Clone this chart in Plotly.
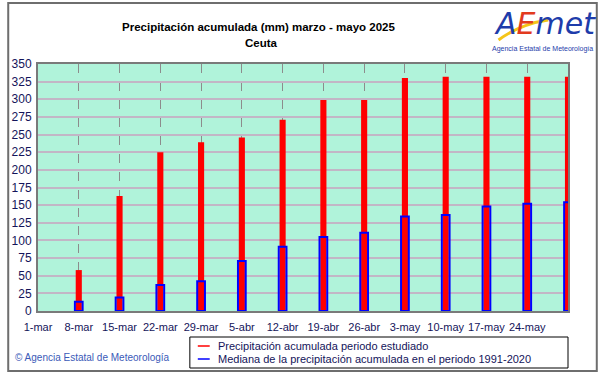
import plotly.graph_objects as go

# ---- data ----
categories = ["1-mar", "8-mar", "15-mar", "22-mar", "29-mar", "5-abr", "12-abr",
              "19-abr", "26-abr", "3-may", "10-may", "17-may", "24-may", "31-may"]
tick_labels = categories[:-1]
bar_dates = categories[1:]
precip_2025 = [58, 163, 225, 239, 246, 271, 299, 299, 330, 332, 332, 332, 332]
median_1991_2020 = [13, 19, 37, 42, 71, 91, 105, 111, 134, 136, 148, 152, 154]
y_ticks = list(range(0, 351, 25))

FONT = "Liberation Sans, Arial, sans-serif"
NAVY = "#14145a"

W, H = 601, 374
L, R, T, B = 34, 33, 64, 63
pw, ph = W - L - R, H - T - B


def px_x(x):
    return (x - L) / pw


def px_y(y):
    return (H - B - y) / ph


fig = go.Figure()

fig.add_trace(go.Bar(
    x=bar_dates, y=precip_2025, width=0.15,
    marker=dict(color="#ff0000", line=dict(width=0)),
    showlegend=False, hoverinfo="x+y",
))
fig.add_trace(go.Bar(
    x=bar_dates, y=median_1991_2020, width=0.19,
    marker=dict(color="rgba(0,0,0,0)", line=dict(color="#0000ff", width=2)),
    showlegend=False, hoverinfo="x+y",
))

fig.update_layout(
    width=W, height=H,
    margin=dict(l=L, r=R, t=T, b=B),
    paper_bgcolor="white",
    plot_bgcolor="#b0f3da",
    barmode="overlay",
    showlegend=False,
    font=dict(family=FONT, size=12, color=NAVY),
    xaxis=dict(
        type="category",
        categoryorder="array", categoryarray=categories,
        range=[0, len(categories) - 1],
        tickmode="array", tickvals=tick_labels, ticktext=tick_labels,
        tickangle=0, ticklabelstandoff=5,
        showgrid=True, gridcolor="#8c8c8c", griddash="dash", gridwidth=1,
        showline=True, linecolor="#7a7a7a", linewidth=2, mirror=True,
        ticks="", tickfont=dict(size=11, color=NAVY),
        zeroline=False, fixedrange=True,
    ),
    yaxis=dict(
        range=[0, 350], tickmode="array", tickvals=y_ticks,
        showgrid=True, gridcolor="#c2b6c6", gridwidth=2,
        showline=True, linecolor="#7a7a7a", linewidth=2, mirror=True,
        ticks="", tickfont=dict(size=12, color=NAVY), ticklabelstandoff=2,
        zeroline=False, fixedrange=True,
    ),
)

annotations = [
    dict(text="<b>Precipitación acumulada (mm) marzo - mayo 2025</b>",
         x=px_x(257), y=px_y(27), xref="paper", yref="paper",
         showarrow=False, font=dict(size=11.5, color="#000000", family=FONT),
         xanchor="center", yanchor="middle"),
    dict(text="<b>Ceuta</b>",
         x=px_x(259), y=px_y(43), xref="paper", yref="paper",
         showarrow=False, font=dict(size=11.5, color="#000000", family=FONT),
         xanchor="center", yanchor="middle"),
    dict(text="© Agencia Estatal de Meteorología",
         x=px_x(9), y=px_y(357), xref="paper", yref="paper",
         showarrow=False, font=dict(size=10, color="#3a5ab8", family=FONT),
         xanchor="left", yanchor="middle"),
    # logo
    dict(text="<i><span style='color:#1e3caa'>A</span><span style='color:#e23a1e'>E</span>"
              "<span style='color:#1e3caa'>met</span></i>",
         x=px_x(545), y=px_y(23), xref="paper", yref="paper",
         showarrow=False, font=dict(size=30, family="DejaVu Sans, sans-serif"),
         xanchor="center", yanchor="middle"),
    dict(text="Agencia Estatal de Meteorología",
         x=px_x(542), y=px_y(49), xref="paper", yref="paper",
         showarrow=False, font=dict(size=7, color="#1e3caa", family=FONT),
         xanchor="center", yanchor="middle"),
    # legend texts
    dict(text="Precipitación acumulada periodo estudiado",
         x=px_x(213), y=px_y(346), xref="paper", yref="paper",
         showarrow=False, font=dict(size=11, color=NAVY, family=FONT),
         xanchor="left", yanchor="middle"),
    dict(text="Mediana de la precipitación acumulada en el periodo 1991-2020",
         x=px_x(213), y=px_y(359), xref="paper", yref="paper",
         showarrow=False, font=dict(size=11, color=NAVY, family=FONT),
         xanchor="left", yanchor="middle"),
]
fig.update_layout(annotations=annotations)

shapes = [
    # outer frame
    dict(type="rect", xref="paper", yref="paper",
         x0=px_x(4), x1=px_x(597), y0=px_y(371), y1=px_y(3),
         line=dict(color="#6e6e6e", width=2), layer="below"),
    # legend box
    dict(type="rect", xref="paper", yref="paper",
         x0=px_x(187), x1=px_x(568), y0=px_y(368), y1=px_y(337),
         line=dict(color="#000000", width=1), fillcolor="white"),
    dict(type="line", xref="paper", yref="paper",
         x0=px_x(195), x1=px_x(207), y0=px_y(346), y1=px_y(346),
         line=dict(color="#ff0000", width=1.5)),
    dict(type="line", xref="paper", yref="paper",
         x0=px_x(195), x1=px_x(207), y0=px_y(359), y1=px_y(359),
         line=dict(color="#0000ff", width=1.5)),
    # logo swoosh
    dict(type="path", xref="paper", yref="paper",
         path=f"M {px_x(498)},{px_y(40)} Q {px_x(520)},{px_y(24)} {px_x(548)},{px_y(20)}",
         line=dict(color="#f5c518", width=3)),
]
fig.update_layout(shapes=shapes)

fig.write_html("out.html", config={"displayModeBar": False},
               post_script="document.body.style.margin='0';")
